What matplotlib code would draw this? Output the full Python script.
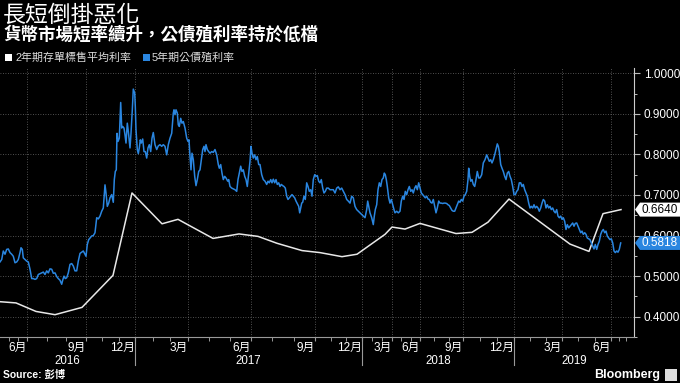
import numpy as np
import matplotlib
matplotlib.use("Agg")
import matplotlib.pyplot as plt
from matplotlib.patches import Polygon, Rectangle
from matplotlib import transforms

# ---------------- data ----------------
# x = position on Bloomberg's observation axis (non-linear in calendar time)
white_idx = [0, 16, 36, 55, 82, 113, 132, 162, 178, 213, 239, 258, 277, 302, 320,
             342, 357, 385, 392, 405, 420, 456, 472, 488, 509, 570, 589, 603, 621]
white_val = [0.437, 0.434, 0.413, 0.405, 0.423, 0.502, 0.705, 0.629, 0.640, 0.593,
             0.604, 0.598, 0.581, 0.563, 0.558, 0.548, 0.554, 0.603, 0.621, 0.616,
             0.630, 0.605, 0.608, 0.633, 0.690, 0.579, 0.561, 0.654, 0.664]

blue_idx_a = [0, 1.7, 3.3, 5, 6.7, 8.3, 10, 11.7, 13.3, 15,
              16.7, 18.3, 20, 21, 22.3, 23.3, 25, 26.7, 28.3, 30,
              31.7, 33.3, 35, 36.7, 38.3, 40, 41.7, 43.3, 45, 46.7,
              48.3, 50, 51.7, 53.3, 55, 56.7, 58.3, 60, 61.7, 62.7,
              64, 65.3, 66.7, 68.3, 70, 71.7, 73.3, 75, 76.7, 78.3,
              80, 81.7, 83.3, 85, 86, 87.3, 88.7, 90, 91.7, 93.3,
              95, 96.7, 98.3, 100, 101.7, 103.3, 105, 106, 107.3, 108.7,
              110, 111.7, 113.3, 114.3, 115.3, 116.3, 117, 118, 119.3, 120.7,
              121.7, 122.7, 124, 125, 126, 127.3, 128.3, 129.3, 130, 131,
              132.3, 133.3, 134.7, 135.3, 136, 137.3, 138.3, 139.3, 140.3, 141.3,
              142.7, 144, 145.3, 146.7, 148, 149.3, 150.7, 152, 153.3, 155,
              156.7, 158.3, 160, 161.7, 163.3, 165, 166.7, 168.3]
blue_val_a = [0.535, 0.541, 0.562, 0.554, 0.566, 0.567, 0.558, 0.554, 0.549, 0.533,
              0.535, 0.541, 0.558, 0.570, 0.566, 0.545, 0.541, 0.537, 0.535, 0.517,
              0.494, 0.494, 0.492, 0.494, 0.504, 0.506, 0.508, 0.510, 0.504, 0.513,
              0.508, 0.518, 0.517, 0.507, 0.508, 0.499, 0.494, 0.490, 0.480, 0.490,
              0.500, 0.494, 0.496, 0.508, 0.529, 0.531, 0.525, 0.513, 0.513, 0.537,
              0.556, 0.559, 0.562, 0.554, 0.549, 0.578, 0.590, 0.594, 0.599, 0.600,
              0.607, 0.644, 0.641, 0.648, 0.660, 0.668, 0.725, 0.705, 0.672, 0.680,
              0.693, 0.701, 0.682, 0.738, 0.758, 0.762, 0.852, 0.832, 0.840, 0.928,
              0.865, 0.869, 0.865, 0.848, 0.828, 0.877, 0.857, 0.832, 0.816, 0.852,
              0.910, 0.961, 0.951, 0.918, 0.861, 0.812, 0.802, 0.816, 0.836, 0.828,
              0.838, 0.807, 0.807, 0.791, 0.816, 0.824, 0.807, 0.840, 0.854, 0.824,
              0.812, 0.821, 0.824, 0.820, 0.824, 0.820, 0.799, 0.824]

blue_idx_b = [170, 171.7, 173.3, 174, 175, 176, 177.3, 178.3, 179.3, 180.7,
              182, 183.3, 185, 186.7, 188, 189, 190, 191, 192, 193.3,
              194.7, 196, 197.3, 198.7, 200, 201.3, 202.7, 204, 205, 206,
              207.3, 208.7, 210, 211.7, 213.3, 215, 216.7, 218.3, 219.3, 220.7,
              222, 223.3, 224.7, 226, 227.7, 228.7, 230, 231.7, 233.3, 235,
              236.7, 238, 239.3, 240.7, 242, 243.3, 244.7, 246, 247.3, 248.7,
              250, 251, 252, 253.3, 254.7, 256, 257.3, 258.7, 260, 261.7,
              263.3, 265, 266.7, 268, 269.3, 270.7, 272, 273.3, 274.7, 276,
              277.3, 278.7, 280, 281.3, 282.7, 284, 285.3, 286.7, 288, 289.3,
              290.7, 292, 293.3, 294.7, 296, 297.3, 298.7, 299.7, 300.7, 301.7,
              302.7, 304, 305.3, 306.7, 308, 309.3, 310.7, 312, 313.3, 314.7,
              316, 317.3, 318.7, 320, 321.3, 322.7, 324, 325.3, 326.7, 328.3,
              330]
blue_val_b = [0.840, 0.852, 0.902, 0.910, 0.898, 0.910, 0.902, 0.873, 0.869, 0.889,
              0.877, 0.881, 0.865, 0.840, 0.832, 0.836, 0.795, 0.762, 0.803, 0.787,
              0.746, 0.723, 0.738, 0.758, 0.762, 0.787, 0.812, 0.820, 0.807, 0.824,
              0.812, 0.807, 0.803, 0.807, 0.805, 0.812, 0.799, 0.775, 0.766, 0.775,
              0.754, 0.738, 0.746, 0.742, 0.734, 0.738, 0.721, 0.717, 0.715, 0.713,
              0.709, 0.738, 0.754, 0.771, 0.758, 0.762, 0.746, 0.738, 0.721, 0.754,
              0.783, 0.820, 0.803, 0.791, 0.799, 0.787, 0.795, 0.775, 0.775, 0.750,
              0.738, 0.734, 0.726, 0.734, 0.730, 0.738, 0.730, 0.739, 0.730, 0.738,
              0.726, 0.730, 0.721, 0.726, 0.723, 0.721, 0.717, 0.697, 0.689, 0.693,
              0.697, 0.701, 0.697, 0.693, 0.685, 0.679, 0.672, 0.656, 0.668, 0.680,
              0.682, 0.697, 0.689, 0.730, 0.721, 0.709, 0.713, 0.697, 0.738, 0.750,
              0.746, 0.748, 0.734, 0.730, 0.738, 0.717, 0.705, 0.709, 0.717, 0.717,
              0.713]

blue_idx_c = [333.3, 335, 336.7, 338.3, 340, 341.7, 343.3, 345, 346.7, 348.3,
              350, 351.7, 353.3, 355, 356.7, 358.3, 360, 361.7, 363.3, 365,
              366.7, 367.7, 368.7, 370, 371.7, 373.3, 374.3, 375.3, 376.7, 378,
              379.3, 380.7, 382, 383.3, 384.3, 385.3, 386.3, 387.3, 388.7, 390,
              391.3, 392.7, 394, 395, 396.7, 398.3, 400, 401.3, 402.7, 404,
              405.3, 406.7, 408, 409.3, 410.7, 412, 413.3, 414.7, 416, 417.3,
              418.7, 420, 421.3, 422.7, 424, 425.3, 426.7, 428, 429.3, 430.7,
              432, 433.3, 434.7, 436, 437.3, 438.7, 440, 441.3, 442.7, 444,
              445.3, 446.7, 448, 449.3, 450.7, 452, 453.3, 454.7, 456, 457.3,
              458.7, 460, 461.3, 462.7, 464, 465.3, 466.7, 468, 468.7, 469.7,
              470.7, 472, 473.3, 474.7, 476, 477.3, 478.7]
blue_val_c = [0.713, 0.705, 0.717, 0.720, 0.713, 0.717, 0.709, 0.701, 0.689, 0.685,
              0.680, 0.697, 0.693, 0.672, 0.664, 0.660, 0.656, 0.652, 0.648, 0.644,
              0.664, 0.685, 0.672, 0.656, 0.644, 0.627, 0.648, 0.664, 0.676, 0.713,
              0.730, 0.721, 0.738, 0.742, 0.754, 0.750, 0.738, 0.721, 0.693, 0.680,
              0.689, 0.676, 0.664, 0.656, 0.660, 0.656, 0.660, 0.685, 0.697, 0.689,
              0.709, 0.701, 0.713, 0.721, 0.709, 0.713, 0.705, 0.717, 0.723, 0.713,
              0.730, 0.717, 0.705, 0.701, 0.697, 0.693, 0.697, 0.690, 0.689, 0.682,
              0.680, 0.689, 0.672, 0.656, 0.668, 0.685, 0.680, 0.680, 0.679, 0.680,
              0.680, 0.679, 0.676, 0.674, 0.668, 0.662, 0.660, 0.660, 0.668, 0.676,
              0.685, 0.682, 0.689, 0.685, 0.697, 0.701, 0.709, 0.738, 0.766, 0.746,
              0.734, 0.738, 0.726, 0.721, 0.738, 0.758, 0.742]

blue_idx_d = [480, 481.7, 483.3, 485, 486.7, 488, 489.3, 490.7, 492, 493.3,
              494.7, 496, 497.3, 498.3, 499.3, 500.7, 502, 503.3, 504.7, 506,
              507.3, 508.7, 510, 511.3, 512.7, 514, 515.3, 516.7, 518, 519.3,
              520.7, 522, 523.3, 524.7, 526, 527.3, 528.7, 530, 531.3, 532.7,
              534, 535.3, 536.7, 538, 539.3, 540.7, 542, 543.3, 544.7, 546,
              547.3, 548.7, 550, 551.3, 552.7, 554, 555.3, 556.7, 558, 559.3,
              560.7, 562, 563.3, 564.7, 566, 567.3, 568.7, 570, 571.3, 572.7,
              574, 575.3, 576.7, 578, 579.3, 580.7, 582, 583.3, 584.7, 586,
              587.3, 588.7, 590, 591.3, 592.7, 594, 595.3, 596.7, 598, 599.3,
              600.7, 602, 603.3, 604.7, 606, 607.3, 608.7, 610, 611.3, 612.7,
              614, 615.3, 616.7, 618, 619.3, 620.7]
blue_val_d = [0.742, 0.750, 0.779, 0.787, 0.799, 0.791, 0.783, 0.787, 0.779, 0.787,
              0.799, 0.812, 0.826, 0.820, 0.807, 0.775, 0.766, 0.758, 0.746, 0.738,
              0.754, 0.758, 0.746, 0.738, 0.721, 0.701, 0.701, 0.709, 0.713, 0.730,
              0.730, 0.721, 0.726, 0.713, 0.705, 0.697, 0.680, 0.668, 0.672, 0.668,
              0.676, 0.668, 0.672, 0.668, 0.660, 0.668, 0.680, 0.689, 0.685, 0.668,
              0.676, 0.668, 0.672, 0.664, 0.668, 0.660, 0.656, 0.664, 0.648, 0.644,
              0.648, 0.640, 0.644, 0.635, 0.615, 0.627, 0.619, 0.623, 0.627, 0.631,
              0.623, 0.630, 0.631, 0.623, 0.615, 0.607, 0.611, 0.603, 0.607, 0.603,
              0.594, 0.592, 0.590, 0.582, 0.574, 0.567, 0.578, 0.566, 0.578, 0.586,
              0.603, 0.611, 0.615, 0.607, 0.611, 0.599, 0.594, 0.590, 0.592, 0.582,
              0.562, 0.558, 0.562, 0.559, 0.566, 0.5818]

quarter_tick_idx = [27, 86, 135, 188, 251, 315, 362, 392, 420, 463, 514, 562, 611]
quarter_labels = ["6月", "9月", "12月", "3月", "6月", "9月", "12月", "3月", "6月",
                  "9月", "12月", "3月", "6月"]
year_labels = ["2016", "2017", "2018", "2019"]
year_bounds = [0, 135, 362, 514, 634]

series_names = ["2年期存單標售平均利率", "5年期公債殖利率"]
last_white = 0.6640
last_blue = 0.5818

title = "長短倒掛惡化"
subtitle = "貨幣市場短率續升，公債殖利率持於低檔"

# ---------------- drawing ----------------
BLUE = "#2a86e0"
WHITE = "#e8e8e8"
FAM = ["Liberation Sans", "Noto Sans CJK TC", "DejaVu Sans"]
plt.rcParams["font.family"] = FAM

blue_idx = blue_idx_a + blue_idx_b + blue_idx_c + blue_idx_d
blue_val = blue_val_a + blue_val_b + blue_val_c + blue_val_d

W, H = 680, 383
fig = plt.figure(figsize=(W / 100, H / 100), dpi=100, facecolor="black")
ax = fig.add_axes([0, 46 / H, 634 / W, 269 / H], facecolor="black")

ax.plot(white_idx, white_val, color=WHITE, lw=1.1, zorder=3)
ax.plot(blue_idx, blue_val, color=BLUE, lw=1.1, zorder=4)

ax.set_xlim(0, 634)
ax.set_ylim(0.3526, 1.013)

# y axis on the right
ax.yaxis.tick_right()
ax.set_yticks(np.arange(0.4, 1.0001, 0.1))
ax.set_yticks(np.arange(0.35, 1.0101, 0.05), minor=True)
ax.yaxis.set_major_formatter(matplotlib.ticker.FormatStrFormatter("%.4f"))
ax.tick_params(axis="y", which="major", colors="#bbbbbb", labelcolor="white",
               labelsize=8.5, length=4, width=0.8, pad=3, direction="out")
ax.tick_params(axis="y", which="minor", colors="#bbbbbb", length=2.5, width=0.7)

# x axis
ax.set_xticks(quarter_tick_idx)
ax.set_xticklabels(quarter_labels)
for lab in ax.get_xticklabels():
    lab.set_horizontalalignment("right")
minor_x = []
bounds = [0] + quarter_tick_idx + [634]
for a, b in zip(bounds[:-1], bounds[1:]):
    minor_x += [a + (b - a) / 3, a + 2 * (b - a) / 3]
ax.set_xticks(minor_x, minor=True)
ax.tick_params(axis="x", which="major", colors="#999999", labelcolor="white",
               labelsize=8.5, length=3, width=0.8, pad=0.5)
ax.tick_params(axis="x", which="minor", colors="#999999", length=3, width=0.7)

for s in ["top", "left"]:
    ax.spines[s].set_visible(False)
ax.spines["right"].set_color("#cccccc")
ax.spines["bottom"].set_color("#999999")

ax.grid(True, which="major", color="#6a6a6a", linestyle=(0, (1, 2)), lw=0.6)

# year labels and separators
blend = transforms.blended_transform_factory(ax.transData, ax.transAxes)
for i, yl in enumerate(year_labels):
    c = (year_bounds[i] + year_bounds[i + 1]) / 2
    ax.text(c, -23.5 / 269, yl, transform=blend, ha="center", va="center",
            color="white", fontsize=8.3)
for xb in year_bounds[1:-1]:
    ax.plot([xb, xb], [0, -28 / 269], transform=blend, color="#999999",
            lw=0.8, clip_on=False)

# last value tags
tag_blend = transforms.blended_transform_factory(ax.transAxes, ax.transData)
for val, face, txtc in [(last_white, "white", "black"), (last_blue, BLUE, "white")]:
    tr = transforms.IdentityTransform() + transforms.ScaledTranslation(1.0, val, tag_blend)
    poly = Polygon([(1, 0), (6, 7), (47, 7), (47, -7), (6, -7)], closed=True,
                   transform=tr, facecolor=face, edgecolor="none", clip_on=False,
                   zorder=6)
    ax.add_patch(poly)
    ax.text(1.0, val, f"{val:.4f}",
            transform=tag_blend + transforms.ScaledTranslation(8 / 100, 0, fig.dpi_scale_trans),
            ha="left", va="center", color=txtc, fontsize=8.5, zorder=7, clip_on=False)

# titles
fig.text(3 / W, 1 - 4 / H, title, ha="left", va="top", color="white",
         fontsize=16.5, family=["Noto Sans CJK TC"])
fig.text(3 / W, 1 - 26 / H, subtitle, ha="left", va="top", color="white",
         fontsize=12.6, family=["Noto Sans CJK TC", "DejaVu Sans"], fontweight="bold")

# legend
fig.patches.append(Rectangle((5 / W, 1 - 61 / H), 7 / W, 7 / H, transform=fig.transFigure,
                             facecolor="white", edgecolor="none"))
fig.text(15 / W, 1 - 57.5 / H, series_names[0], ha="left", va="center",
         color="#dddddd", fontsize=7.9)
fig.patches.append(Rectangle((143 / W, 1 - 61 / H), 7 / W, 7 / H, transform=fig.transFigure,
                             facecolor=BLUE, edgecolor="none"))
fig.text(152 / W, 1 - 57.5 / H, series_names[1], ha="left", va="center",
         color="#dddddd", fontsize=7.9)

# footer
fig.text(3 / W, 1 - 375 / H, "Source: 彭博", ha="left", va="center", color="white",
         fontsize=7.5, fontweight="bold")
fig.text(660 / W, 1 - 375 / H, "Bloomberg", ha="right", va="center", color="white",
         fontsize=9, fontweight="bold")
fig.patches.append(Rectangle((665 / W, 1 - 381 / H), 12 / W, 12 / H,
                             transform=fig.transFigure, facecolor="#dddddd",
                             edgecolor="none"))

fig.savefig("out.png", dpi=100, facecolor="black")
